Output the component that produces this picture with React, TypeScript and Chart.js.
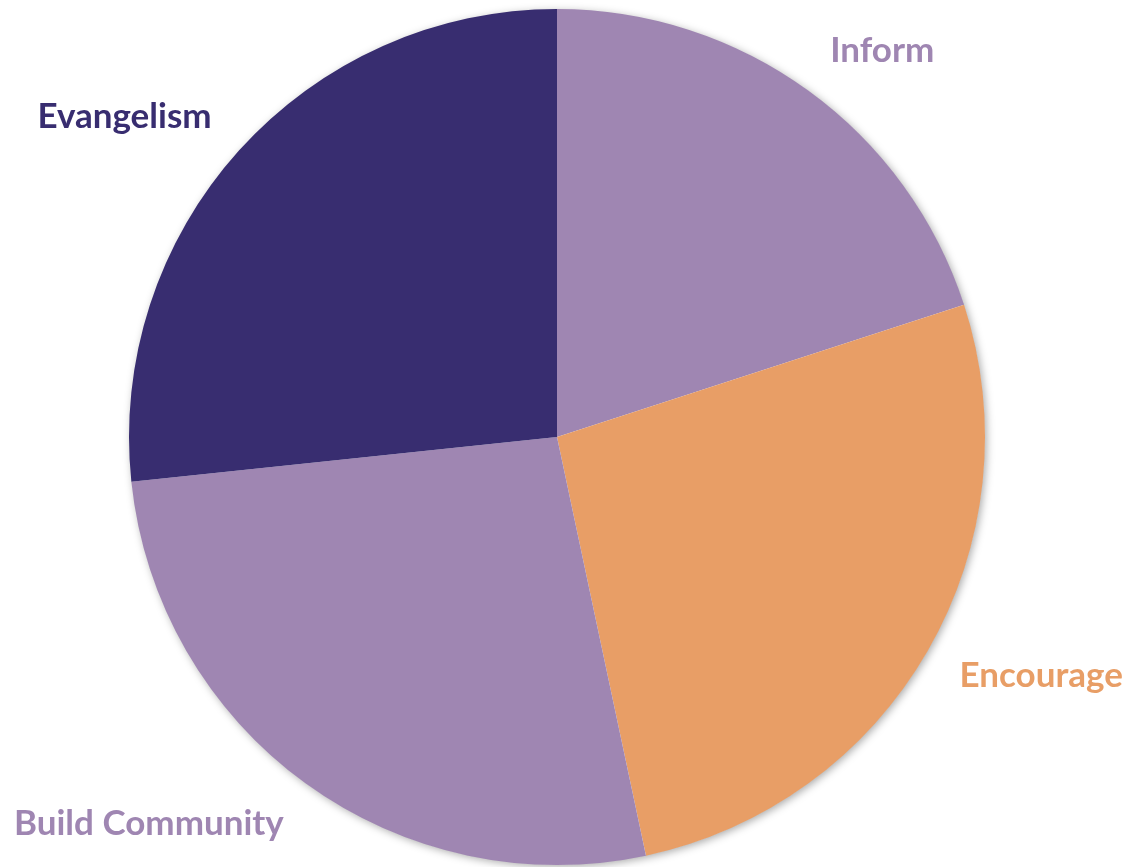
import React, { useEffect, useRef } from "react";
import { Chart, registerables } from "chart.js";

Chart.register(...registerables);

const categories = ["Inform", "Encourage", "Build Community", "Evangelism"];
const values = [3, 4, 4, 4];
const colors = ["#9F86B2", "#E89E66", "#9F86B2", "#382D70"];

const FONT = "bold 35px Lato, 'Open Sans', sans-serif";

const shadowPlugin = {
  id: "pieShadow",
  beforeDatasetsDraw(chart: any) {
    const meta = chart.getDatasetMeta(0);
    const arc = meta.data[0];
    if (!arc) return;
    const { x, y, outerRadius } = arc.getProps(["x", "y", "outerRadius"], true);
    const ctx = chart.ctx;
    ctx.save();
    ctx.shadowColor = "rgba(0,0,0,0.35)";
    ctx.shadowBlur = 9;
    ctx.shadowOffsetX = 2;
    ctx.shadowOffsetY = 2;
    ctx.fillStyle = "#ffffff";
    ctx.beginPath();
    ctx.arc(x, y, outerRadius - 0.5, 0, Math.PI * 2);
    ctx.fill();
    ctx.restore();
  },
};

const labelPlugin = {
  id: "outerLabels",
  afterDatasetsDraw(chart: any) {
    const meta = chart.getDatasetMeta(0);
    const ctx = chart.ctx;
    ctx.save();
    ctx.font = FONT;
    ctx.textBaseline = "middle";
    meta.data.forEach((arc: any, i: number) => {
      const { x, y, startAngle, endAngle, outerRadius } = arc.getProps(
        ["x", "y", "startAngle", "endAngle", "outerRadius"],
        true
      );
      const mid = (startAngle + endAngle) / 2;
      const px = x + Math.cos(mid) * outerRadius * 1.086;
      const py = y + Math.sin(mid) * outerRadius * 1.117;
      ctx.textAlign = Math.cos(mid) >= 0 ? "left" : "right";
      ctx.fillStyle = colors[i];
      ctx.fillText(categories[i], px, py);
    });
    ctx.restore();
  },
};

export default function App() {
  const ref = useRef<HTMLCanvasElement>(null);
  useEffect(() => {
    if (!ref.current) return;
    const chart = new Chart(ref.current, {
      type: "pie",
      data: {
        labels: categories,
        datasets: [
          {
            data: values,
            backgroundColor: colors,
            borderWidth: 0,
          },
        ],
      },
      options: {
        animation: false,
        responsive: false,
        layout: { padding: { left: 129, right: 137, top: 9, bottom: 2 } },
        plugins: {
          legend: { display: false },
          tooltip: { enabled: false },
        },
      },
      plugins: [shadowPlugin, labelPlugin],
    });
    return () => chart.destroy();
  }, []);
  return (
    <div style={{ position: "fixed", left: 0, top: 0, width: 1122, height: 867, background: "#fff" }}>
      <canvas ref={ref} width={1122} height={867} style={{ width: 1122, height: 867 }} />
    </div>
  );
}
